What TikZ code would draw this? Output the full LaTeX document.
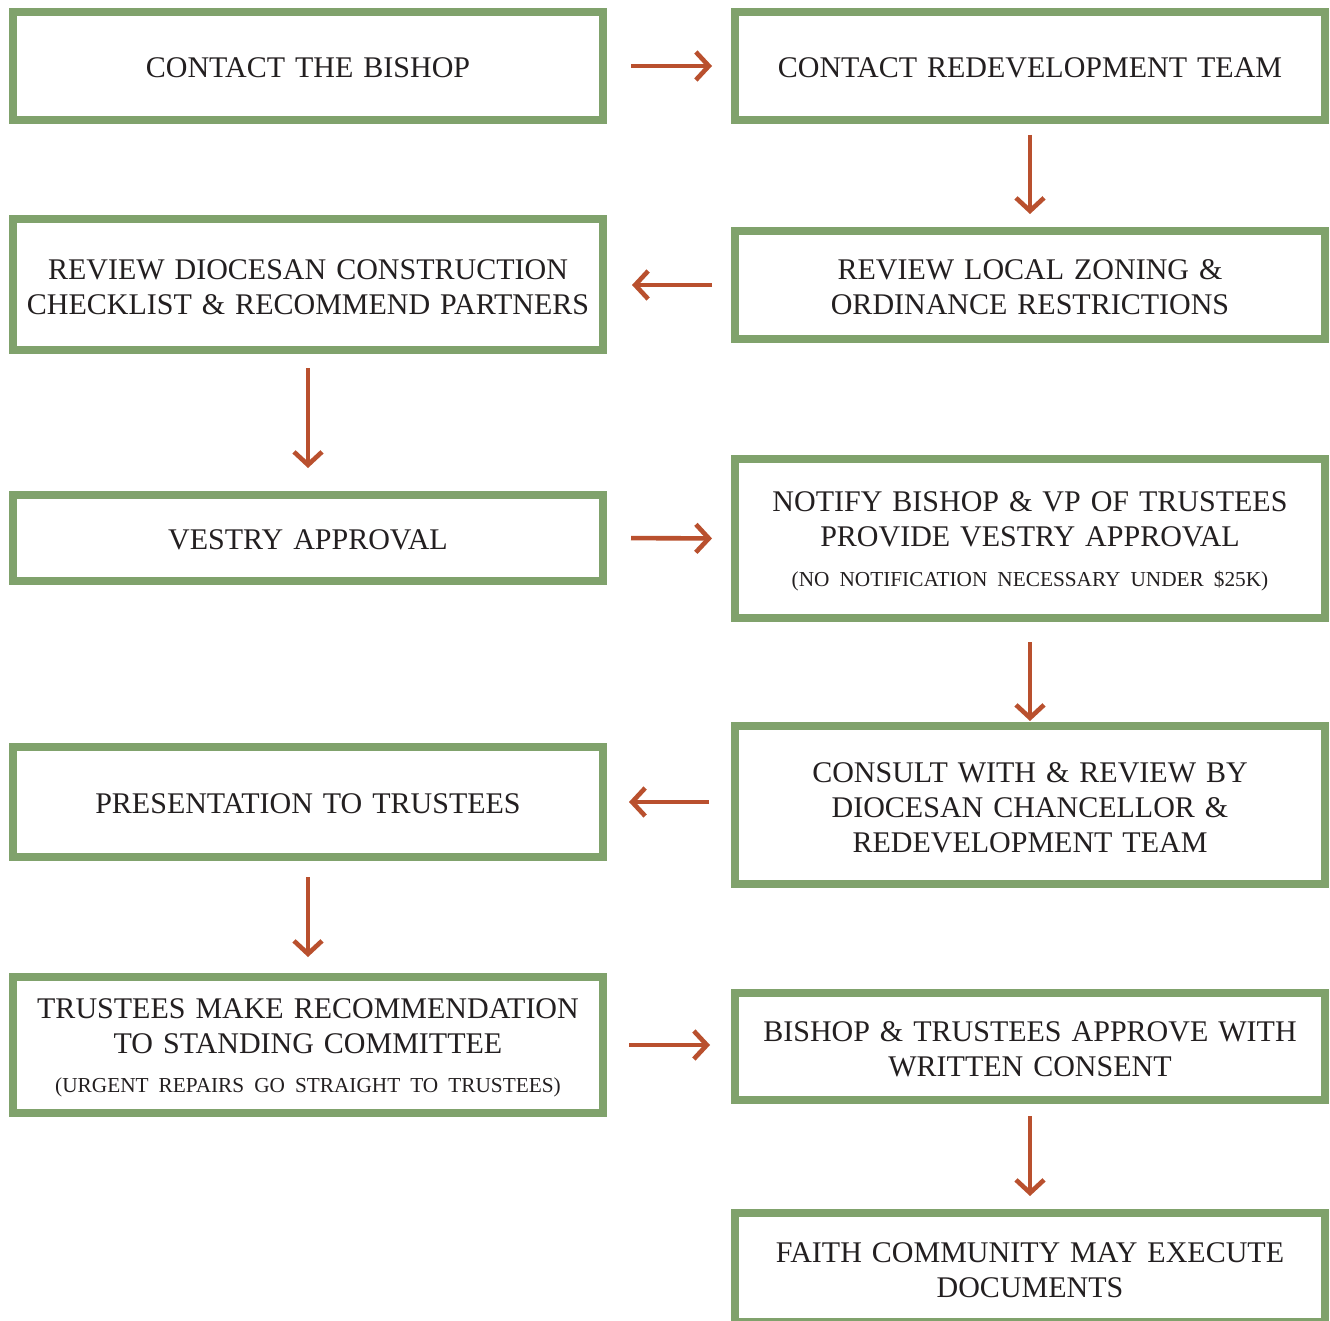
\documentclass[tikz,border=0pt]{standalone}
\usepackage{fontspec}
\setmainfont{Liberation Serif}[WordSpace=0.78]
\usetikzlibrary{arrows.meta}
\definecolor{boxgreen}{RGB}{128,162,108}
\definecolor{rust}{RGB}{185,80,46}
\definecolor{ink}{RGB}{35,31,32}
\newcommand{\topstrut}{\rule{0pt}{25pt}}
\newcommand{\onestrut}{\rule{0pt}{22.5pt}}
\tikzset{
  stepbox/.style={draw=boxgreen, line width=8pt, fill=white, text=ink,
    minimum width=590pt, text width=580pt, align=center, inner sep=0pt,
    font=\fontsize{30}{35}\selectfont},
  flow/.style={draw=rust, line width=4.6pt,
    -{Straight Barb[length=13pt,width=28pt,line width=4.6pt]}},
}
\newcommand{\smalltxt}[1]{{\fontsize{21.3}{26}\selectfont #1}}
\begin{document}
\begin{tikzpicture}[x=1pt,y=-1pt]
\useasboundingbox (0,0) rectangle (1330,1321);
\fill[white] (0,0) rectangle (1330,1321);
% left column x=308, right column x=1030
\node[stepbox, minimum height=108pt] (A) at (308,66) {\onestrut CONTACT THE BISHOP};
\node[stepbox, minimum height=108pt] (B) at (1030,66) {\onestrut CONTACT REDEVELOPMENT TEAM};
\node[stepbox, minimum height=108pt] (C) at (1030,285) {\topstrut REVIEW LOCAL ZONING \&\\ORDINANCE RESTRICTIONS};
\node[stepbox, minimum height=131pt] (D) at (308,284.5) {\topstrut REVIEW DIOCESAN CONSTRUCTION\\CHECKLIST \& RECOMMEND PARTNERS};
\node[stepbox, minimum height=86pt] (E) at (308,538) {\onestrut VESTRY APPROVAL};
\node[stepbox, minimum height=159pt] (F) at (1030,538.5) {\topstrut NOTIFY BISHOP \& VP OF TRUSTEES\\PROVIDE VESTRY APPROVAL\\[5pt]\smalltxt{(NO NOTIFICATION NECESSARY UNDER \$25K)}};
\node[stepbox, minimum height=158pt] (G) at (1030,805) {\topstrut CONSULT WITH \& REVIEW BY\\DIOCESAN CHANCELLOR \&\\REDEVELOPMENT TEAM};
\node[stepbox, minimum height=110pt] (H) at (308,802) {\onestrut PRESENTATION TO TRUSTEES};
\node[stepbox, minimum height=136pt] (I) at (308,1045) {\topstrut TRUSTEES MAKE RECOMMENDATION\\TO STANDING COMMITTEE\\[4pt]\smalltxt{(URGENT REPAIRS GO STRAIGHT TO TRUSTEES)}};
\node[stepbox, minimum height=107pt] (J) at (1030,1046.5) {\topstrut BISHOP \& TRUSTEES APPROVE WITH\\WRITTEN CONSENT};
\node[stepbox, minimum height=109pt] (K) at (1030,1267.5) {\topstrut FAITH COMMUNITY MAY EXECUTE\\DOCUMENTS};
% connectors
\draw[flow, shorten <=24pt, shorten >=19pt] (A.east) -- (B.west);
\draw[flow, shorten <=11pt, shorten >=13pt] (B.south) -- (C.north);
\draw[flow, shorten <=19pt, shorten >=25pt] (C.west) -- (C.west -| D.east);
\draw[flow, shorten <=14pt, shorten >=23pt] (D.south) -- (E.north);
\draw[flow, shorten <=24pt, shorten >=19pt] (E.east) -- (F.west);
\draw[flow, shorten <=20pt, shorten >=1pt] (F.south) -- (G.north);
\draw[flow, shorten <=22pt, shorten >=22pt] (G.west |- H.east) -- (H.east);
\draw[flow, shorten <=16pt, shorten >=16pt] (H.south) -- (I.north);
\draw[flow, shorten <=22pt, shorten >=21pt] (I.east) -- (I.east -| J.west);
\draw[flow, shorten <=12pt, shorten >=13pt] (J.south) -- (K.north);
\end{tikzpicture}
\end{document}
